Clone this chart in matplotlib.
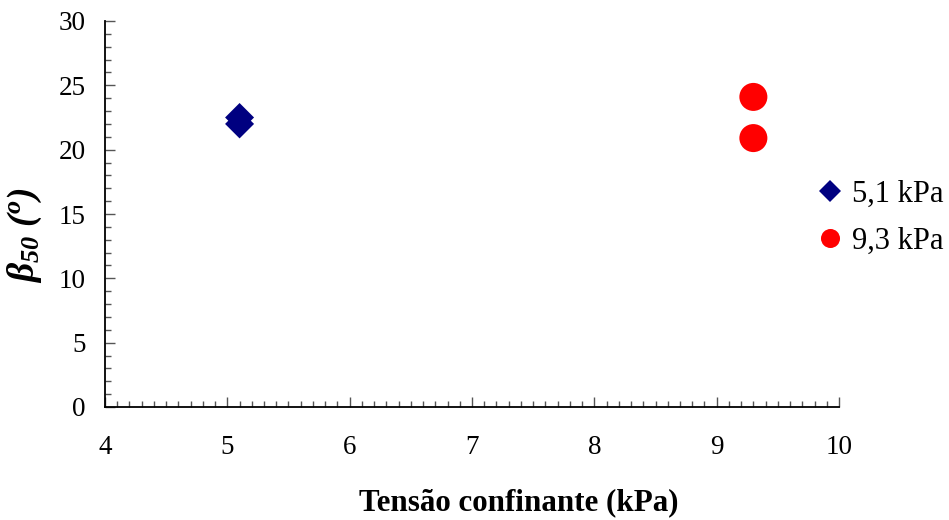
import matplotlib
matplotlib.use('Agg')
import matplotlib.pyplot as plt
from matplotlib.ticker import MultipleLocator
from matplotlib.lines import Line2D

# data
tensao_51 = [5.1, 5.1]
beta_51 = [22.5, 22.0]
tensao_93 = [9.3, 9.3]
beta_93 = [24.1, 20.9]
serie_labels = ['5,1 kPa', '9,3 kPa']
cor_51 = '#000080'
cor_93 = '#ff0000'

plt.rcParams['font.family'] = 'Liberation Serif'
plt.rcParams['mathtext.fontset'] = 'custom'
plt.rcParams['mathtext.rm'] = 'Liberation Serif'
plt.rcParams['mathtext.it'] = 'Liberation Serif:italic'
plt.rcParams['mathtext.bf'] = 'Liberation Serif:bold'
plt.rcParams['mathtext.bfit'] = 'Liberation Serif:bold:italic'

W, H = 949, 520
fig = plt.figure(figsize=(W/100, H/100), dpi=100)
ax = fig.add_axes([105/W, 1-407/H, (839-105)/W, (407-21)/H])

ax.scatter(tensao_51, beta_51, marker='D', s=218, color=cor_51,
           edgecolors='none', zorder=3, clip_on=False)
ax.scatter(tensao_93, beta_93, marker='o', s=407, color=cor_93,
           edgecolors='none', zorder=3, clip_on=False)

ax.set_xlim(4, 10)
ax.set_ylim(0, 30)
ax.xaxis.set_major_locator(MultipleLocator(1))
ax.xaxis.set_minor_locator(MultipleLocator(0.1))
ax.yaxis.set_major_locator(MultipleLocator(5))
ax.yaxis.set_minor_locator(MultipleLocator(1))

for s in ['top', 'right']:
    ax.spines[s].set_visible(False)
for s in ['left', 'bottom']:
    ax.spines[s].set_color('black')
    ax.spines[s].set_linewidth(1.3)

ax.tick_params(which='major', direction='in', length=7, width=1, color='#555555',
               labelsize=19.5)
ax.tick_params(which='minor', direction='in', length=4, width=1, color='#555555')
ax.tick_params(axis='x', pad=20)
ax.tick_params(axis='y', pad=14)

fig.text(25/W, 1-235/H, r'$\mathbfit{\beta}_{\mathbfit{50}}\ \mathbfit{(^{o})}$',
         fontsize=27, rotation=90, ha='center', va='center')
fig.text(519/W, 1-510/H, 'Tensão confinante (kPa)', fontsize=22.3,
         fontweight='bold', ha='center', va='baseline')

handles = [
    Line2D([], [], linestyle='none', marker='D', markersize=11.2,
           color=cor_51, markeredgewidth=0),
    Line2D([], [], linestyle='none', marker='o', markersize=13.7,
           color=cor_93, markeredgewidth=0),
]
fig.legend(handles, serie_labels, loc='center left',
           bbox_to_anchor=(815/W, 1-218/H), frameon=False, fontsize=22,
           handlelength=1.0, handletextpad=0.2, labelspacing=0.58,
           borderaxespad=0, borderpad=0)

fig.savefig('out.png', dpi=100)
